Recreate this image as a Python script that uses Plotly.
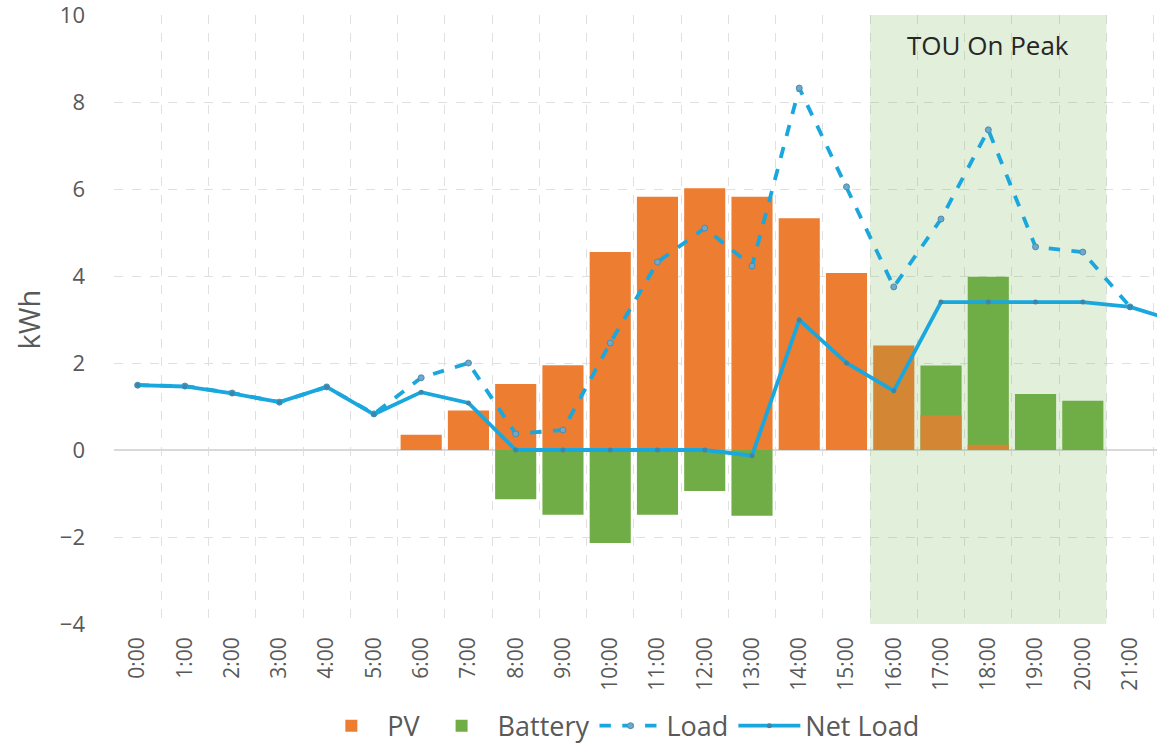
import plotly.graph_objects as go

hours = [f"{h}:00" for h in range(22)]
x_idx = list(range(22))

pv = [0, 0, 0, 0, 0, 0, 0.35, 0.91, 1.52, 1.95, 4.55, 5.82, 6.02, 5.82, 5.33, 4.07, 2.4, 0.8, 0.12, 0, 0, 0]
battery = [0, 0, 0, 0, 0, 0, 0, 0, -1.13, -1.49, -2.14, -1.49, -0.94, -1.51, 0, 0, 0, 1.94, 3.98, 1.29, 1.13, 0]
load = [1.49, 1.47, 1.31, 1.1, 1.45, 0.83, 1.66, 2.0, 0.37, 0.46, 2.46, 4.32, 5.1, 4.23, 8.32, 6.05, 3.75, 5.31, 7.36, 4.67, 4.55, 3.29]
net_x = list(range(23))
net_load = [1.49, 1.46, 1.3, 1.1, 1.45, 0.82, 1.33, 1.08, 0.0, 0.0, 0.0, 0.0, 0.0, -0.13, 2.99, 2.0, 1.36, 3.4, 3.4, 3.4, 3.4, 3.29, 2.95]

tou_start, tou_end = 15.5, 20.5
y_min, y_max = -4, 10

ORANGE = "#ED7D31"
GREEN = "#70AD47"
BLUE = "#1AA7DE"
GREY = "#595959"
FONT = "Open Sans"

fig = go.Figure()

fig.add_trace(go.Bar(x=x_idx, y=battery, name="Battery", marker_color=GREEN,
                     width=0.87, legendrank=2, marker_line_width=0))
fig.add_trace(go.Bar(x=x_idx, y=pv, name="PV", marker_color=ORANGE,
                     width=0.87, legendrank=1, marker_line_width=0))

# TOU on-peak shading (drawn above bars, below lines)
fig.add_trace(go.Scatter(x=[tou_start, tou_end, tou_end, tou_start, tou_start],
                         y=[y_min, y_min, y_max, y_max, y_min],
                         fill="toself", fillcolor="rgba(112,173,71,0.2)",
                         line=dict(width=0), mode="lines", showlegend=False,
                         hoverinfo="skip"))

fig.add_trace(go.Scatter(x=x_idx, y=load, name="Load", mode="lines+markers",
                         line=dict(color=BLUE, width=3.8, dash="dash"),
                         marker=dict(size=6, color="#6FA8C8", line=dict(color="#4A8DB0", width=1)),
                         legendrank=3))
fig.add_trace(go.Scatter(x=net_x, y=net_load, name="Net Load", mode="lines+markers",
                         line=dict(color=BLUE, width=3.8),
                         marker=dict(size=5, color="#3C86A8"),
                         legendrank=4))

fig.add_annotation(x=18.0, y=9.3, text="TOU On Peak", showarrow=False,
                   font=dict(family=FONT, size=26, color="#262626"))

fig.update_layout(
    width=1157, height=752,
    margin=dict(l=114, r=0, t=15, b=128, autoexpand=False),
    barmode="overlay",
    plot_bgcolor="white", paper_bgcolor="white",
    font=dict(family=FONT, color=GREY),
    legend=dict(orientation="h", x=0.485, xanchor="center", y=-0.208, yanchor="bottom",
                font=dict(size=27, color=GREY), traceorder="normal",
                itemwidth=62, tracegroupgap=0),
    showlegend=True,
)

fig.update_xaxes(
    range=[-0.5, 21.57], automargin=False,
    tickmode="array", tickvals=x_idx, ticktext=hours,
    tickangle=-90, tickfont=dict(size=21, color=GREY, family=FONT),
    ticklabelstandoff=8, ticklabeloverflow="allow",
    showgrid=False, zeroline=False, showline=False, ticks="",
    minor=dict(tickmode="array", tickvals=[i - 0.5 for i in range(23)], showgrid=True,
               gridcolor="#E0E0E0", griddash="dash", gridwidth=1, ticks=""),
)
fig.update_yaxes(
    range=[y_min, y_max], tickvals=list(range(-4, 11, 2)), automargin=False,
    tickfont=dict(size=22, color=GREY, family=FONT),
    ticklabeloverflow="allow",
    showgrid=True, gridcolor="#E0E0E0", griddash="dash", gridwidth=1,
    zeroline=True, zerolinecolor="#D9D9D9", zerolinewidth=1.5,
    ticklabelstandoff=28,
    title=dict(text="kWh", font=dict(size=29, color=GREY, family=FONT), standoff=10),
)

fig.write_html("out.html", config={"displayModeBar": False},
               post_script="document.body.style.margin='0';document.body.style.overflow='hidden';")
